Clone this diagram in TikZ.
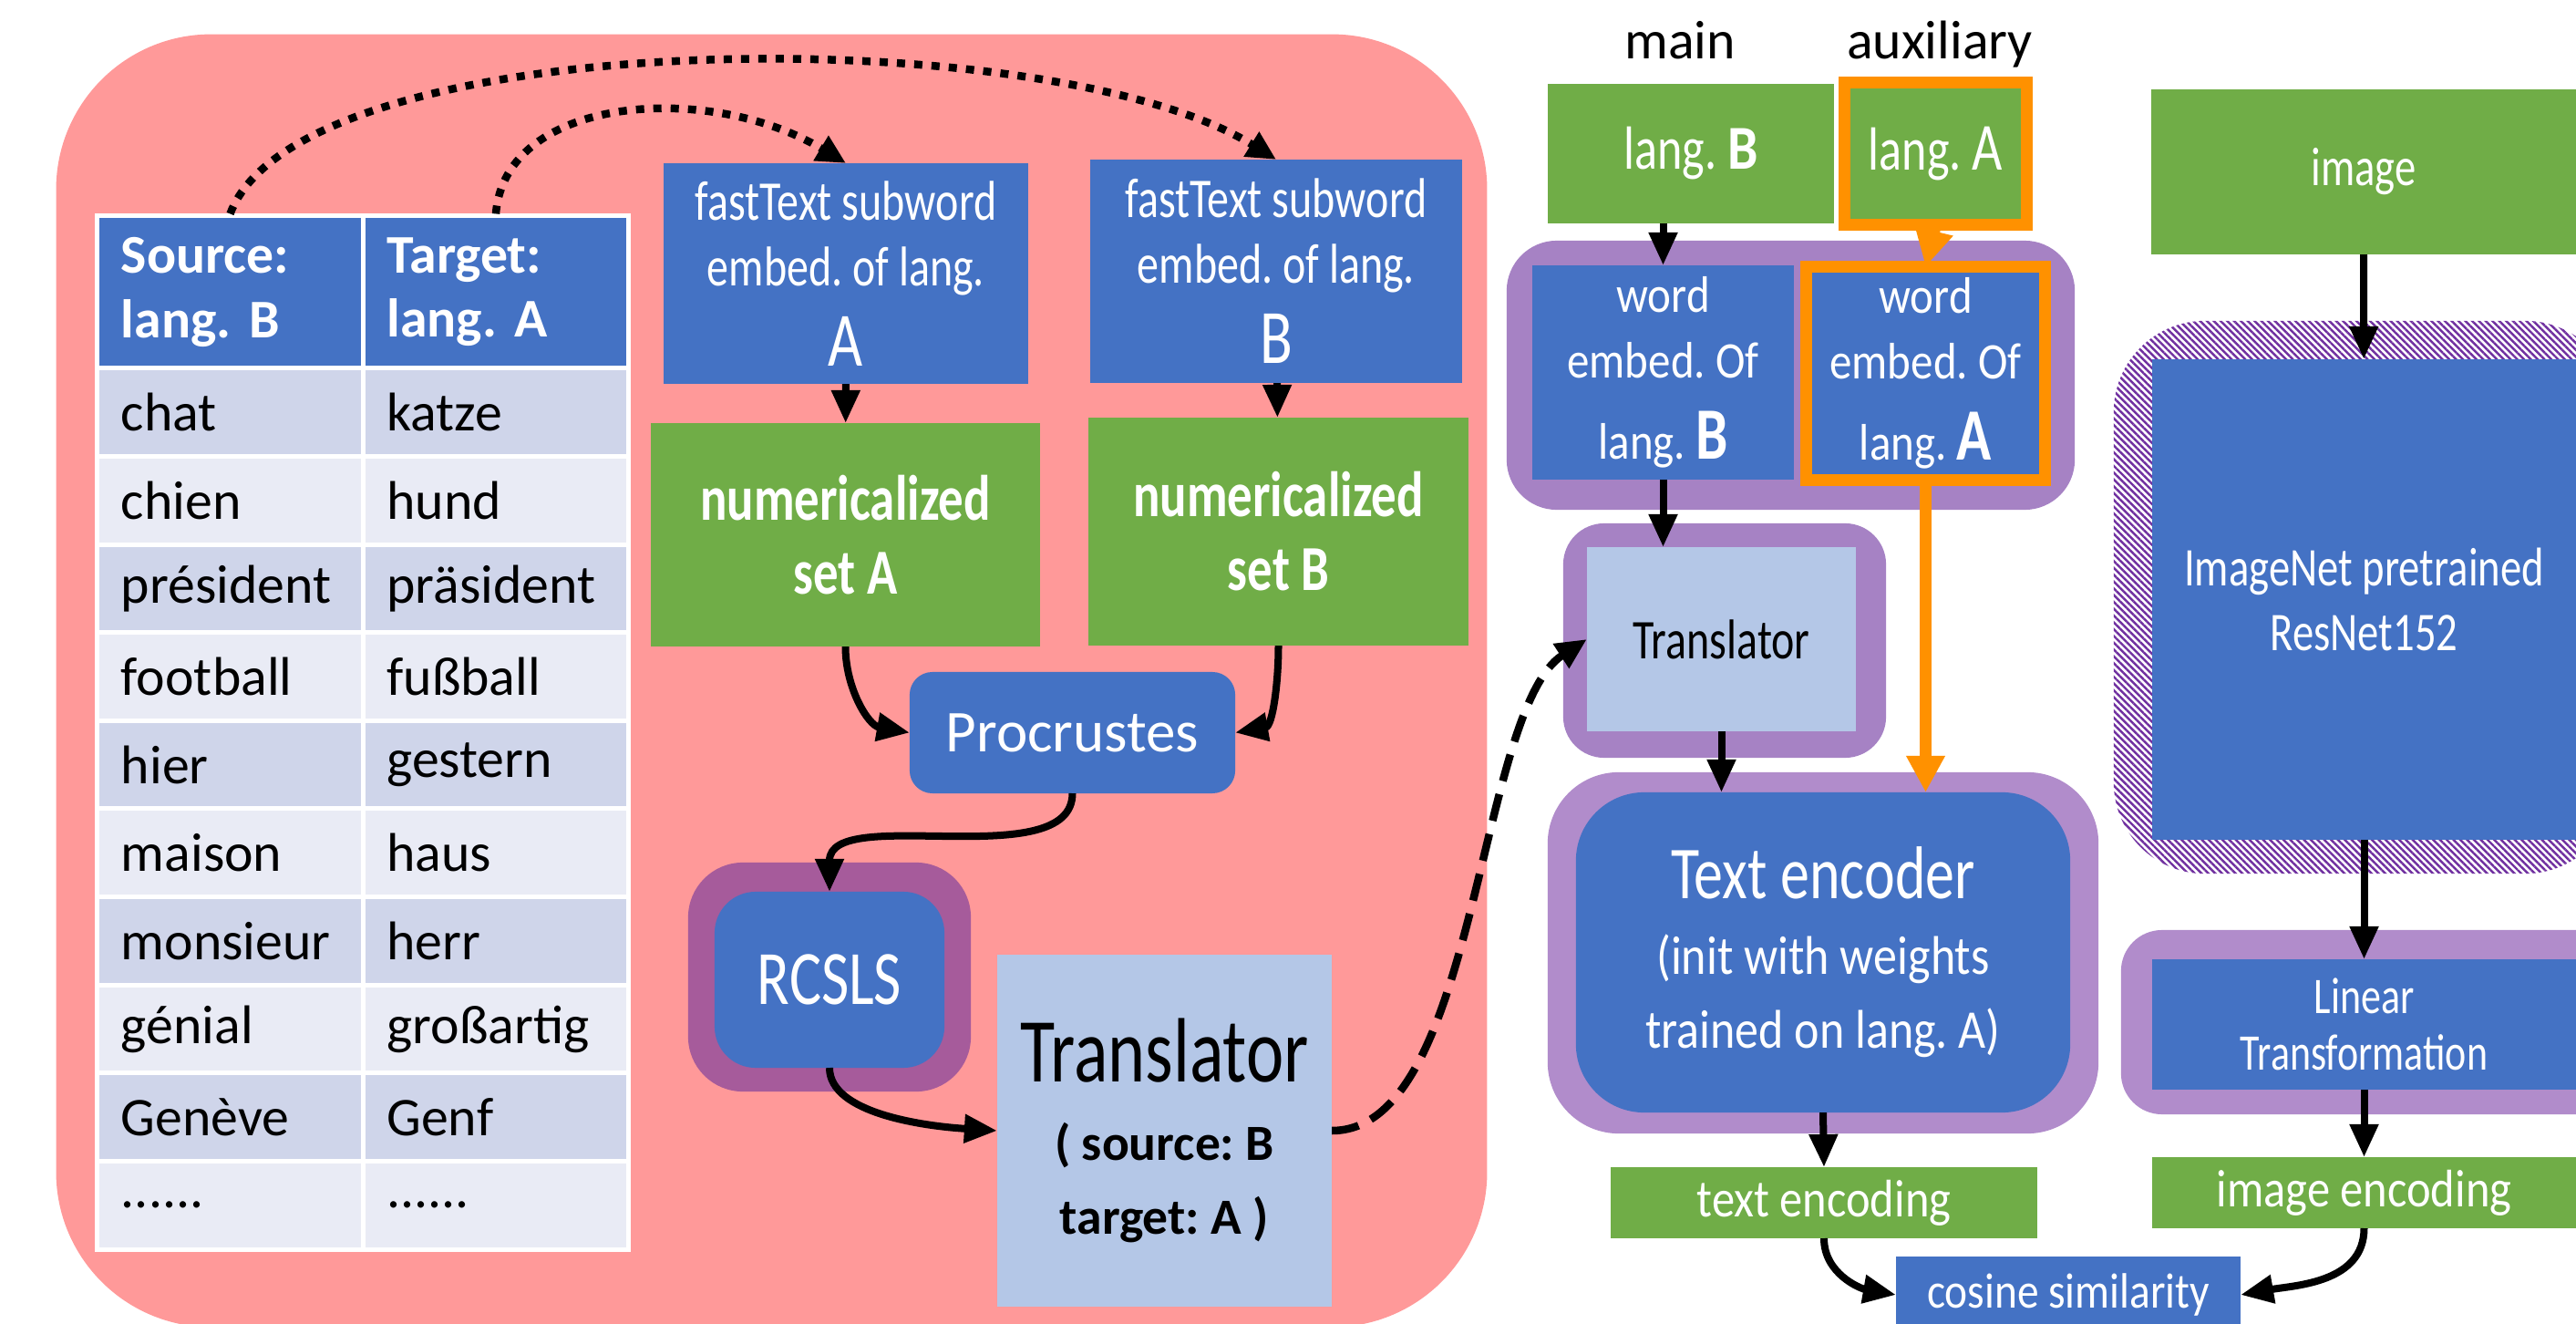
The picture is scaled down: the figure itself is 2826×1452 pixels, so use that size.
\documentclass[tikz,border=0pt]{standalone}
\usepackage{fontspec}
\setmainfont{Carlito}
\newfontfamily\slimfont[FakeStretch=0.78]{Carlito}
\newfontfamily\midfont[FakeStretch=0.87]{Carlito}
\usetikzlibrary{arrows.meta,patterns.meta,positioning}
\frenchspacing
\definecolor{pinkbg}{HTML}{FF9999}
\definecolor{boxblue}{HTML}{4472C4}
\definecolor{boxgreen}{HTML}{70AD47}
\definecolor{paleblue}{HTML}{B4C7E7}
\definecolor{rowdark}{HTML}{CFD5EA}
\definecolor{rowlight}{HTML}{E9EBF5}
\definecolor{plumfill}{HTML}{A65B9B}
\definecolor{wefill}{HTML}{A682C4}
\definecolor{lilacfill}{HTML}{B18CCB}
\definecolor{hatchpurple}{HTML}{7030A0}
\definecolor{orangec}{HTML}{FF9100}
\newcommand{\moredots}{......}
\tikzset{%
	box/.style      = {rectangle, inner sep=0pt, outer sep=0pt, align=center},
	bluebox/.style  = {box, fill=boxblue, text=white},
	greenbox/.style = {box, fill=boxgreen, text=white},
	palebox/.style  = {box, fill=paleblue, text=black},
	orangebox/.style = {draw=orangec, line width=0.13cm}, % auxiliary path
	cell/.style     = {rectangle, draw=white, line width=0.05cm, inner xsep=0.26cm, inner ysep=0pt,
	                   text width=2.39cm, align=left, minimum height=0.966cm, font=\fontsize{17}{20}\selectfont},
	flow/.style     = {line width=0.08cm, -{Triangle[length=0.36cm,width=0.3cm]}},
	dotflow/.style  = {line width=0.085cm, dash pattern=on 0.09cm off 0.1cm, -{Triangle[length=0.32cm,width=0.3cm]}},
	dashflow/.style = {line width=0.085cm, dash pattern=on 0.3cm off 0.15cm, -{Triangle[length=0.34cm,width=0.3cm]}},
	orangeflow/.style = {line width=0.13cm, draw=orangec, -{Triangle[length=0.4cm,width=0.4cm]}},
}

\begin{document}
\begin{tikzpicture}[x=0.01cm, y=0.01cm]
	\useasboundingbox (0,0) rectangle (2826,-1452);
	\clip (0,0) rectangle (2826,-1452);
	% left panel: dictionary and alignment
	\node[box, fill=pinkbg, rounded corners=1.7cm, minimum width=15.69cm, minimum height=14.17cm] (panel) at (846.5,-746.5) {};
	\node[cell, fill=boxblue, text=white, minimum height=1.67cm, font=\bfseries\fontsize{17}{20}\selectfont] (hdsrc) at (252.5,-320.5) {Source:\\lang. B};
	\node[cell, fill=boxblue, text=white, minimum height=1.67cm, font=\bfseries\fontsize{17}{20}\selectfont] (hdtgt) at (544,-320.5) {Target:\\lang. A};
	\foreach \src/\tgt [count=\i] in {chat/katze, chien/hund, président/präsident, football/fußball, hier/gestern, maison/haus, monsieur/herr, génial/großartig, Genève/Genf, \moredots/\moredots}{
		\ifodd\i \def\rowfill{rowdark}\else\def\rowfill{rowlight}\fi
		\node[cell, fill=\rowfill] (src\i) at (252.5,-355.7-96.6*\i) {\src};
		\node[cell, fill=\rowfill] (tgt\i) at (544,-355.7-96.6*\i) {\tgt};
	}
	\node[bluebox, minimum width=4cm, minimum height=2.42cm, font=\slimfont\fontsize{17.5}{20.5}\selectfont] (ftA) at (928,-300)
		{fastText subword\\embed. of lang.\\[4.5pt]{\fontsize{24}{24}\selectfont A}};
	\node[bluebox, minimum width=4.08cm, minimum height=2.45cm, font=\slimfont\fontsize{17.5}{20.5}\selectfont] (ftB) at (1400,-297.5)
		{fastText subword\\embed. of lang.\\[4.5pt]{\fontsize{24}{24}\selectfont B}};
	\node[greenbox, minimum width=4.27cm, minimum height=2.45cm, font=\slimfont\bfseries\fontsize{20}{23}\selectfont] (numA) at (927.5,-586.5) {numericalized\\set A};
	\node[greenbox, minimum width=4.17cm, minimum height=2.5cm, font=\slimfont\bfseries\fontsize{20}{23}\selectfont] (numB) at (1402.5,-583) {numericalized\\set B};
	\node[bluebox, rounded corners=0.25cm, minimum width=3.57cm, minimum height=1.33cm, font=\fontsize{18.5}{20}\selectfont] (procr) at (1176.5,-803.5) {Procrustes};
	\node[box, fill=plumfill, rounded corners=0.6cm, minimum width=3.1cm, minimum height=2.51cm] (rcslsframe) at (910,-1071.5) {};
	\node[bluebox, rounded corners=0.45cm, minimum width=2.52cm, minimum height=1.93cm, font=\slimfont\fontsize{24}{26}\selectfont] (rcsls) at (910,-1074.5) {RCSLS};
	\node[palebox, minimum width=3.67cm, minimum height=3.86cm, font=\bfseries\fontsize{15.8}{23}\selectfont] (trbig) at (1277.5,-1240)
		{{\slimfont\mdseries\fontsize{28.5}{30}\selectfont Translator}\\[1.5pt]( source: B\\target: A )};
	% right part: main and auxiliary language
	\node[anchor=base, font=\fontsize{17}{20}\selectfont] (mainlbl) at (1843,-65) {main};
	\node[anchor=base, font=\fontsize{17}{20}\selectfont] (auxlbl) at (2128,-65) {auxiliary};
	\node[greenbox, minimum width=3.14cm, minimum height=1.53cm, font=\slimfont\fontsize{19}{20}\selectfont] (langB) at (1855,-168.5) {lang. {\midfont\bfseries\fontsize{19.5}{20}\selectfont B}};
	\node[greenbox, orangebox, minimum width=2cm, minimum height=1.56cm, font=\slimfont\fontsize{19}{20}\selectfont] (langA) at (2123.5,-168.5) {lang. {\fontsize{21}{20}\selectfont A}};
	\node[box, fill=wefill, rounded corners=0.55cm, minimum width=6.23cm, minimum height=2.95cm] (weframe) at (1964.5,-411.5) {};
	\node[bluebox, minimum width=2.87cm, minimum height=2.35cm, font=\midfont\fontsize{16}{20.5}\selectfont] (weB) at (1824.5,-408.5)
		{word\\embed. Of\\[4.8pt]lang. {\slimfont\bfseries\fontsize{23}{24}\selectfont B}};
	\node[bluebox, orangebox, minimum width=2.62cm, minimum height=2.34cm, font=\midfont\fontsize{16}{20.5}\selectfont] (weA) at (2112.5,-409.5)
		{word\\embed. Of\\[4.8pt]lang. {\slimfont\bfseries\fontsize{23}{24}\selectfont A}};
	\node[box, fill=wefill, rounded corners=0.45cm, minimum width=3.54cm, minimum height=2.57cm] (trframe) at (1892,-702.5) {};
	\node[palebox, minimum width=2.95cm, minimum height=2.02cm, font=\slimfont\fontsize{17.5}{20}\selectfont] (trsmall) at (1888.5,-701) {Translator};
	\node[box, fill=lilacfill, rounded corners=0.78cm, minimum width=6.04cm, minimum height=3.96cm] (tencframe) at (2000,-1045) {};
	\node[bluebox, rounded corners=0.75cm, minimum width=5.42cm, minimum height=3.51cm, font=\midfont\fontsize{17}{23}\selectfont] (tenc) at (2000,-1044.5)
		{{\slimfont\fontsize{23.3}{25}\selectfont Text encoder}\\[0.6pt](init with weights\\trained on lang. A)};
	\node[greenbox, minimum width=4.68cm, minimum height=0.78cm, font=\midfont\fontsize{16.5}{20}\selectfont] (txtenc) at (2001,-1319) {text encoding};
	\node[bluebox, minimum width=3.78cm, minimum height=0.84cm, font=\midfont\fontsize{15.5}{18}\selectfont] (cossim) at (2269,-1420) {cosine similarity};
	% image column
	\node[greenbox, minimum width=4.66cm, minimum height=1.81cm, font=\slimfont\fontsize{17}{20}\selectfont] (image) at (2593,-188.5) {image};
	\node[box, rounded corners=1cm, pattern={Lines[angle=-45,distance=1.5pt,line width=0.7pt]}, pattern color=hatchpurple,
		minimum width=5.51cm, minimum height=6.06cm] (resframe) at (2594.5,-655) {};
	\node[bluebox, minimum width=4.65cm, minimum height=5.27cm, font=\slimfont\fontsize{17}{20}\selectfont] (resnet) at (2593.5,-657.5) {ImageNet pretrained\\ResNet152};
	\node[box, fill=lilacfill, rounded corners=0.45cm, minimum width=5.43cm, minimum height=2.02cm] (linframe) at (2598.5,-1121) {};
	\node[bluebox, minimum width=4.65cm, minimum height=1.43cm, font=\slimfont\fontsize{16}{17.6}\selectfont] (linear) at (2593.5,-1123.5) {Linear\\Transformation};
	\node[greenbox, minimum width=4.65cm, minimum height=0.78cm, font=\midfont\fontsize{16.5}{20}\selectfont] (imgenc) at (2593.5,-1308) {image encoding};
	% connectors
	\draw[dotflow] (hdsrc.north) .. controls +(78,209) and +(-250,155) .. (ftB.north);
	\draw[dotflow] (hdtgt.north) .. controls +(10,130) and +(-150,90) .. (ftA.north);
	\draw[flow] (ftA) -- (numA);
	\draw[flow] (ftB) -- (numB);
	\draw[flow] (numA.south) to[out=-90, in=170] (procr.west);
	\draw[flow] (numB.south) to[out=-90, in=10] (procr.east);
	\draw[flow] (procr.south) .. controls +(0,-90) and +(0,97) .. (rcsls.north);
	\draw[flow] (rcsls.south) .. controls +(0,-50) and +(-80,5) .. (trbig.west);
	\draw[dashflow] (trbig.east) .. controls +(160,0) and +(-121,-79) .. (trsmall.west);
	\draw[flow] (weB.north |- langB.south) -- (weB.north);
	\draw[orangeflow] (langA.south) -- (weA.north);
	\draw[flow] (weB.south) -- (weB.south |- trsmall.north);
	\draw[flow] (trsmall.south) -- (trsmall.south |- tenc.north);
	\draw[orangeflow] (weA.south) -- (weA.south |- tenc.north);
	\draw[flow] (tenc.south) -- (txtenc.north);
	\draw[flow] (txtenc.south) to[out=-90, in=170] (cossim.west);
	\draw[flow] (imgenc.south) to[out=-90, in=10] (cossim.east);
	\draw[flow] (image) -- (resnet);
	\draw[flow] (resnet) -- (linear);
	\draw[flow] (linear) -- (imgenc);
\end{tikzpicture}
\end{document}
